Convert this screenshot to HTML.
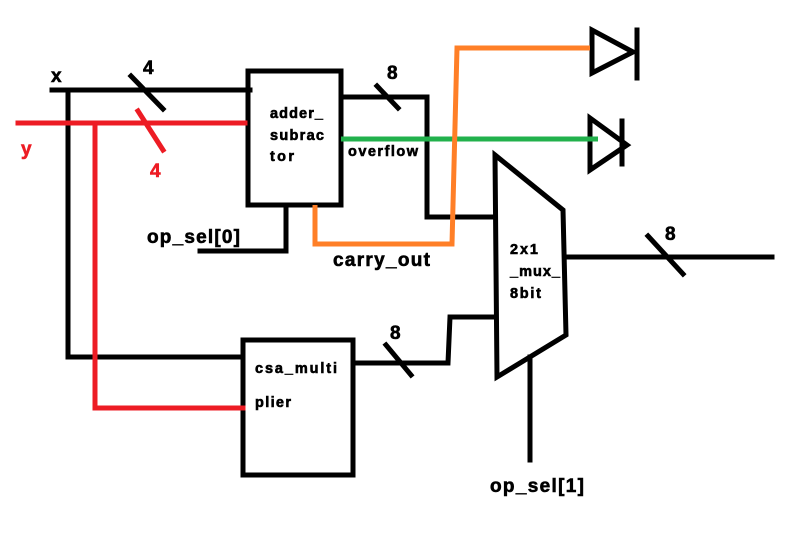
<!DOCTYPE html>
<html><head><meta charset="utf-8"><style>
html,body{margin:0;padding:0;background:#fff;width:812px;height:541px;overflow:hidden}
text{font-family:"Liberation Sans",Arial,sans-serif;font-weight:bold;stroke-width:0.6}
</style></head><body>
<svg width="812" height="541" viewBox="0 0 812 541" xmlns="http://www.w3.org/2000/svg">
<g stroke="#000" stroke-width="5" fill="none" stroke-linecap="square">
<polyline points="52,90 250,90"/>
<polyline points="68,90 68,357 243,357"/>
<line x1="131" y1="76" x2="163" y2="109"/>
<rect x="248" y="71" width="93" height="134"/>
<polyline points="341,97 427,97 427,217 495,217"/>
<line x1="377" y1="86" x2="398" y2="108"/>
<polyline points="286,205 286,251 200,251"/>
<polygon points="592,30 592,73 633,52"/>
<line x1="637" y1="30" x2="637" y2="78"/>
<polygon points="590,118 590,170 627,145"/>
<line x1="622" y1="121" x2="622" y2="164"/>
<polygon points="495,155 563,210 566,335 497,377"/>
<line x1="566" y1="257" x2="772" y2="257"/>
<line x1="648" y1="236" x2="683" y2="274"/>
<line x1="530" y1="357" x2="530" y2="460"/>
<rect x="243" y="340" width="110" height="135"/>
<polyline points="353,363 448,363 450,317 495,317"/>
<line x1="386" y1="345" x2="411" y2="375"/>
</g>
<g stroke="#ed1c24" stroke-width="5" fill="none" stroke-linecap="square">
<line x1="18" y1="123" x2="245" y2="123"/>
<polyline points="95,123 95,408 243,408"/>
<line x1="138" y1="111" x2="163" y2="150"/>
</g>
<line x1="341" y1="139" x2="598" y2="139" stroke="#22b14c" stroke-width="5"/>
<polyline points="315,205 315,244 452,244 457,48 590,48" stroke="#ff7f27" stroke-width="5" fill="none"/>
<g font-size="19" fill="#000" stroke="#000">
<text x="51" y="82">x</text>
<text x="143" y="74">4</text>
<text x="387" y="79">8</text>
<text x="147" y="243" textLength="93">op_sel[0]</text>
<text x="333" y="266" textLength="97">carry_out</text>
<text x="665" y="240">8</text>
<text x="390" y="339">8</text>
<text x="490" y="492" textLength="94">op_sel[1]</text>
</g>
<g font-size="19" fill="#ed1c24" stroke="#ed1c24">
<text x="21" y="155">y</text>
<text x="150" y="177">4</text>
</g>
<g font-size="14.5" fill="#000" stroke="#000">
<text x="270" y="118" textLength="53">adder_</text>
<text x="270" y="140" textLength="54">subrac</text>
<text x="270" y="161" textLength="24">tor</text>
<text x="348" y="156" textLength="70">overflow</text>
<text x="510" y="254" textLength="28">2x1</text>
<text x="510" y="276" textLength="50">_mux_</text>
<text x="510" y="298" textLength="31">8bit</text>
<text x="255" y="373" textLength="82">csa_multi</text>
<text x="255" y="407" textLength="36">plier</text>
</g>
</svg>
</body></html>
